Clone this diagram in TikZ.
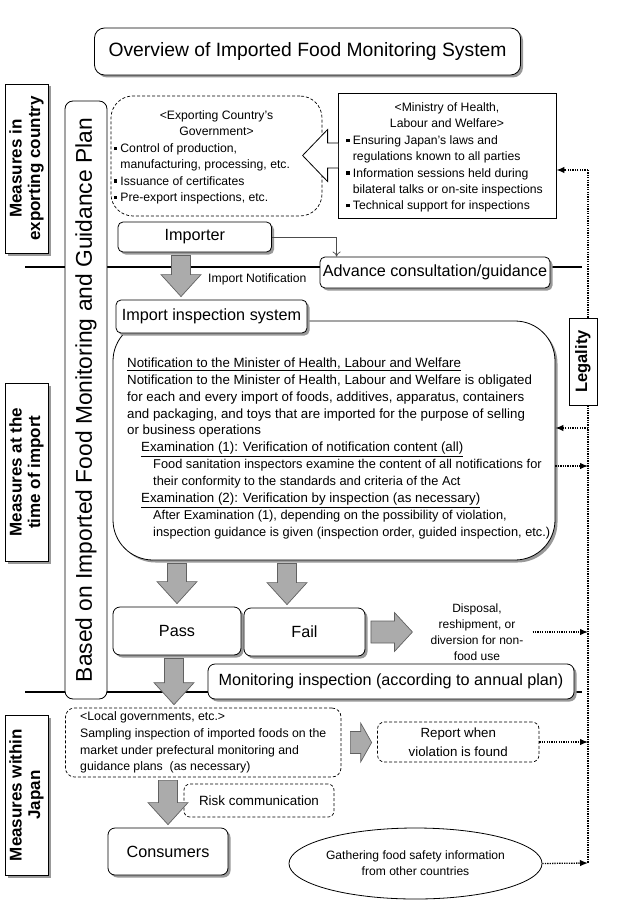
\documentclass[tikz,border=0pt]{standalone}
\usepackage{fontspec}
\setmainfont{Liberation Sans}
\usetikzlibrary{calc,arrows.meta,positioning,shadows,shapes.geometric}
\newcommand{\colorTikzArrow}{black!33}
\newcommand{\colorTikzEdge}{black!62}
\newcommand{\colorTikzShadow}{black!40}
\newcommand{\bul}{\makebox[0.55em][l]{\rule[0.2em]{0.28em}{0.28em}}}
\newcommand{\ind}{\hspace*{0.55em}}

\begin{document}
\begin{tikzpicture}[x=1pt, y=-1pt,
  box/.style={draw, fill=white, line width=0.8pt, rounded corners=5pt, inner sep=0pt,
    font=\fontsize{16.2}{19}\selectfont,
    drop shadow={shadow xshift=2.5pt, shadow yshift=-2.5pt, fill=\colorTikzShadow, opacity=1}},
  plainbox/.style={draw, fill=white, line width=0.8pt, inner sep=0pt},
  dashbox/.style={draw, fill=white, line width=0.7pt, dash pattern=on 3pt off 2pt, inner sep=0pt},
  sidelabel/.style={plainbox, rotate=90, align=center, minimum height=43pt,
    font=\bfseries\fontsize{17}{18.5}\selectfont,
    drop shadow={shadow xshift=2.5pt, shadow yshift=-2.5pt, fill=\colorTikzShadow, opacity=1}},
  smalltext/.style={inner sep=0pt, font=\fontsize{12.2}{16.3}\selectfont},
  bigdown/.style={draw=\colorTikzEdge, fill=\colorTikzArrow, line width=0.7pt,
    to path={let \p1=(\tikztostart), \p2=(\tikztotarget) in
      (\x1-9.5pt,\y1-3pt) -- (\x1+9.5pt,\y1-3pt) -- (\x1+9.5pt,\y2+25pt) -- (\x1+20pt,\y2+25pt)
      -- (\x1,\y2+3pt) -- (\x1-20pt,\y2+25pt) -- (\x1-9.5pt,\y2+25pt) -- cycle}},
  bigright/.style={draw=\colorTikzEdge, fill=\colorTikzArrow, line width=0.7pt,
    to path={let \p1=(\tikztostart), \p2=(\tikztotarget) in
      (\x1,\y1+11pt) -- (\x2-#1,\y1+11pt) -- (\x2-#1,\y1+19.5pt) -- (\x2,\y1)
      -- (\x2-#1,\y1-19.5pt) -- (\x2-#1,\y1-11pt) -- (\x1,\y1-11pt) -- cycle}},
  bigright/.default=18pt,
  dotline/.style={line width=1.3pt, dash pattern=on 1.3pt off 1.1pt},
  dotarrow/.style={dotline, -{Latex[length=8pt,width=6.5pt]}},
  thinarrow/.style={draw=black!70, line width=0.7pt, -{To[length=5pt,width=8pt]}}
]
        \useasboundingbox (0,0) rectangle (617,909);

        \draw[line width=2pt] (25,267) -- (582,267);
        \draw[line width=2pt] (25,692) -- (582,692);

        \node[box, rounded corners=10pt, minimum width=426pt, minimum height=47pt, font=\fontsize{19.3}{22}\selectfont] (title) at (307.5,51.5) {Overview of Imported Food Monitoring System};

        \node[sidelabel, minimum width=169pt] (labexp) at (26.5,168.5) {Measures in\\exporting country};
        \node[sidelabel, minimum width=178pt] (labimp) at (26.5,472) {Measures at the\\time of import};
        \node[sidelabel, minimum width=160pt] (labjp) at (26.5,795) {Measures within\\Japan};

        \node[plainbox, rotate=90, rounded corners=8pt, minimum width=598pt, minimum height=42pt, font=\fontsize{22.8}{26}\selectfont] (plan) at (86,400) {Based on Imported Food Monitoring and Guidance Plan};

        \node[dashbox, rounded corners=22pt, minimum width=211pt, minimum height=120pt] (expgov) at (216.5,156) {};
        \node[smalltext, align=center, anchor=north] (expgovhead) at (216.5,110.5) {<Exporting Country's\\Government>};
        \node[smalltext, align=left, anchor=north west] (expgovlist) at (113.5,143.5) {\bul Control of production,\\\ind manufacturing, processing, etc.\\\bul Issuance of certificates\\\bul Pre-export inspections, etc.};

        \node[plainbox, minimum width=218pt, minimum height=125pt] (ministry) at (447,155.5) {};
        \draw[fill=white, line width=0.8pt] ([shift={(0.6,-12.5)}]ministry.west) -- ++(-10.6,0) -- ++(0,-13.5) -- ++(-25,26) -- ++(25,26) -- ++(0,-13.5) -- ++(10.6,0);
        \node[smalltext, align=center, anchor=north] (minhead) at (447,102.5) {<Ministry of Health,\\Labour and Welfare>};
        \node[smalltext, align=left, anchor=north west] (minlist) at (346,135.5) {\bul Ensuring Japan's laws and\\\ind regulations known to all parties\\\bul Information sessions held during\\\ind bilateral talks or on-site inspections\\\bul Technical support for inspections};

        \node[box, minimum width=153.5pt, minimum height=30pt] (importer) at (194.75,237) {Importer};
        \node[box, minimum width=230pt, minimum height=31pt] (advance) at (435,272.5) {Advance consultation/guidance};
        \draw[thinarrow] (importer.east) -| ([xshift=17pt]advance.north west);
        \node[smalltext, anchor=west] (notif) at (208,279) {Import Notification};

        \node[box, rounded corners=40pt, minimum width=442pt, minimum height=239pt] (insp) at (334,440.5) {};
        \node[box, minimum width=191pt, minimum height=33pt] (inspect) at (211.5,316.5) {Import inspection system};
        \node[align=left, anchor=north west, inner sep=0pt, font=\fontsize{13.3}{16.9}\selectfont] (insptext) at (127,357.5) {\underline{Notification to the Minister of Health, Labour and Welfare}\\%
Notification to the Minister of Health, Labour and Welfare is obligated\\%
for each and every import of foods, additives, apparatus, containers\\%
and packaging, and toys that are imported for the purpose of selling\\%
or business operations\\%
\hspace*{14pt}\underline{Examination (1): Verification of notification content (all)}\\%
{\fontsize{12.8}{16.9}\selectfont\hspace*{26pt}Food sanitation inspectors examine the content of all notifications for}\\%
{\fontsize{12.8}{16.9}\selectfont\hspace*{26pt}their conformity to the standards and criteria of the Act}\\%
\hspace*{14pt}\underline{Examination (2): Verification by inspection (as necessary)}\\%
{\fontsize{12.8}{16.9}\selectfont\hspace*{26pt}After Examination (1), depending on the possibility of violation,}\\%
{\fontsize{12.8}{16.9}\selectfont\hspace*{26pt}inspection guidance is given (inspection order, guided inspection, etc.)}};

        \coordinate (legtop) at (588,170);
        \coordinate (legbot) at (588,863);
        \coordinate (legin) at (588,428);
        \coordinate (legout) at (588,466);
        \draw[dotline] (legtop) -- (legbot);
        \node[plainbox, rotate=90, minimum width=87pt, minimum height=28pt, font=\bfseries\fontsize{16.5}{18}\selectfont] (legal) at (583,361.5) {Legality};

        \node[box, rounded corners=7pt, minimum width=128pt, minimum height=48pt] (pass) at (177,631) {Pass};
        \node[box, rounded corners=7pt, minimum width=121pt, minimum height=48pt] (fail) at (304.5,632) {Fail};
        \node[smalltext, align=center, font=\fontsize{12}{16}\selectfont] (disposal) at (477,632) {Disposal,\\reshipment, or\\diversion for non-\\food use};
        \node[box, rounded corners=7pt, minimum width=366pt, minimum height=35pt] (monitor) at (391,681.5) {Monitoring inspection (according to annual plan)};

        \node[dashbox, rounded corners=9pt, minimum width=275.5pt, minimum height=69pt, align=left, font=\fontsize{12.3}{16.7}\selectfont] (local) at (203.25,742.5) {<Local governments, etc.>\\Sampling inspection of imported foods on the\\market under prefectural monitoring and\\guidance plans\ \ (as necessary)};
        \node[dashbox, rounded corners=7pt, minimum width=161.5pt, minimum height=40pt, align=center, font=\fontsize{13.3}{19}\selectfont] (report) at (458.25,742) {Report when\\violation is found};
        \node[dashbox, rounded corners=6pt, minimum width=150pt, minimum height=33pt, font=\fontsize{13.4}{16}\selectfont] (risk) at (259,800.5) {Risk communication};
        \node[box, rounded corners=7pt, minimum width=120pt, minimum height=47pt] (consumers) at (168,851.5) {Consumers};
        \node[draw, ellipse, line width=0.8pt, minimum width=245pt, minimum height=71pt, inner sep=0pt, align=center, font=\fontsize{12.1}{16}\selectfont] (gather) at (415.5,863.5) {Gathering food safety information\\from other countries};

        \draw[bigdown] (importer.south -| 181,0) to (inspect.north -| 181,0);
        \draw[bigdown] (insp.south -| pass.north) to (pass.north);
        \draw[bigdown] (insp.south -| 287,0) to (fail.north -| 287,0);
        \draw[bigdown] (pass.south -| 174,0) to (local.north -| 174,0);
        \draw[bigdown] (local.south -| consumers.north) to (consumers.north);
        \draw[bigright] ([xshift=5.5pt]fail.east) to ([xshift=-18pt]disposal.west);
        \draw[bigright=11pt] ([xshift=9pt]local.east) to ([xshift=-5.5pt]report.west);

        \draw[dotarrow] (legtop) -- (legtop -| ministry.east);
        \draw[dotarrow] (legin) -- (legin -| insp.east);
        \draw[dotarrow] (legout -| insp.east) -- (legout);
        \draw[dotarrow] ([xshift=9pt]disposal.east) -- (disposal.east -| legtop);
        \draw[dotarrow] (report.east) -- (report.east -| legtop);
        \draw[dotarrow] (gather.east) -- (legbot);

      \end{tikzpicture}
\end{document}
